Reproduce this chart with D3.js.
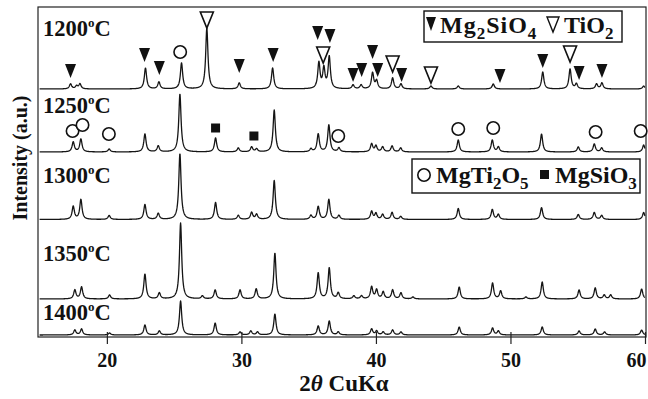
<!DOCTYPE html>
<html>
<head>
<meta charset="utf-8">
<script src="https://cdn.jsdelivr.net/npm/d3@7"></script>
<style>
  html, body { margin: 0; padding: 0; background: #fff; }
  svg { display: block; }
  text { font-family: "Liberation Serif", "Times New Roman", serif; font-weight: bold; fill: #111; }
</style>
</head>
<body>
<svg id="chart" width="648" height="399"></svg>
<script>
// Sintering temperatures, top to bottom
const samples = ["1200", "1250", "1300", "1350", "1400"];

// Baseline level of each pattern on the stacked intensity axis (a.u.)
const baselines = [248, 185, 117.5, 38, 2];

// Observed reflections: [2θ (deg), peak intensity above baseline (a.u.)]
const peaks1200 = [
  [17.3, 5], [17.75, 3], [18.0, 5], [22.87, 21], [23.87, 7], [25.55, 26], [27.43, 61],
  [29.84, 6], [32.32, 21], [35.76, 26], [36.13, 20], [36.53, 32], [38.3, 4], [38.9, 4],
  [39.75, 16], [40.05, 8], [41.24, 11], [41.86, 5], [44.09, 3], [46.12, 3], [48.72, 5],
  [52.4, 17], [54.43, 20], [54.9, 5], [56.4, 5], [56.8, 6], [59.9, 3]
];
const peaks1250 = [
  [17.5, 10], [18.07, 13], [20.17, 3], [22.83, 18], [23.82, 6], [25.43, 58], [28.08, 14],
  [29.77, 4], [30.76, 5], [31.13, 3], [32.44, 42], [35.17, 3], [35.71, 18], [36.5, 27],
  [37.25, 4], [39.68, 8], [40.0, 6], [40.5, 5], [41.2, 6], [41.84, 4], [46.12, 12],
  [48.65, 12], [49.1, 5], [52.31, 18], [55.04, 5], [56.23, 8], [56.78, 4], [59.9, 7]
];
const peaks1300 = [
  [17.5, 13], [18.07, 20], [20.17, 4], [22.83, 15], [23.82, 6], [25.43, 66], [28.08, 17],
  [29.77, 4], [30.76, 7], [31.13, 5], [32.44, 39], [35.17, 4], [35.71, 13], [36.5, 20],
  [37.25, 4], [39.68, 8], [40.0, 6], [40.5, 5], [41.2, 7], [41.84, 3], [46.12, 11],
  [48.65, 10], [49.1, 5], [52.31, 12], [55.04, 5], [56.23, 7], [56.78, 4], [59.9, 7]
];
const peaks1350 = [
  [17.62, 9], [18.12, 12], [20.2, 4], [22.83, 25], [23.9, 6], [25.48, 76], [27.1, 3],
  [28.05, 9], [29.9, 9], [31.1, 10], [32.49, 46], [35.71, 26], [36.53, 31], [37.2, 6],
  [38.36, 3], [38.93, 3], [39.68, 12], [40.05, 9], [40.54, 7], [41.24, 9], [41.86, 6],
  [42.75, 2], [46.19, 12], [48.67, 16], [49.27, 8], [51.15, 2], [52.36, 17], [55.1, 9],
  [56.3, 11], [56.97, 4], [57.45, 4], [59.75, 10]
];
const peaks1400 = [
  [17.62, 5], [18.12, 6], [20.2, 2], [22.83, 10], [23.9, 4], [25.48, 34], [28.05, 12],
  [29.9, 3], [30.7, 4], [31.2, 3], [32.49, 21], [35.71, 9], [36.53, 14], [37.2, 3],
  [39.68, 6], [40.05, 4], [40.54, 3], [41.24, 5], [41.86, 3], [46.19, 8], [48.67, 7],
  [49.1, 4], [52.36, 8], [55.1, 4], [56.3, 6], [57.0, 3], [59.75, 5]
];
const peakLists = [peaks1200, peaks1250, peaks1300, peaks1350, peaks1400];

// Phase identification marks: [2θ, lift above the pattern baseline (a.u.)]
const forsterite1200 = [
  [17.3, 11], [22.8, 27], [23.9, 14], [29.84, 16], [32.36, 27], [35.67, 49], [36.58, 46],
  [38.3, 7], [38.94, 12], [39.75, 30], [40.13, 12], [41.91, 7], [49.22, 6], [52.4, 21],
  [55.1, 9], [56.8, 11]
];
const rutile1200 = [[27.43, 61], [36.08, 26], [41.24, 17], [44.09, 6], [54.43, 27]];
const karrooite1200 = [[25.45, 37]];
const karrooite1250 = [
  [17.45, 21], [18.19, 27], [20.15, 18], [37.2, 16], [46.12, 23], [48.72, 24],
  [56.33, 20], [59.68, 21]
];
const enstatite1250 = [[28.08, 24], [30.93, 16]];

const xTicks = [20, 30, 40, 50, 60];

// ---------------------------------------------------------------------------
const frame = { left: 38, right: 646, top: 7, bottom: 337 };
const svg = d3.select("#chart");

const x = d3.scaleLinear().domain([15, 60]).range([39.6, 645]);
const y = d3.scaleLinear().domain([0, 330]).range([337, 7]);

// Diffraction profile: each reflection drawn as a narrow Lorentzian line
const hwhm = 0.1;
const grid = d3.range(15, 60.0001, 0.02);
function profile(peaks) {
  return grid.map(t => {
    let v = 0;
    for (const [p, h] of peaks) {
      const u = (t - p) / hwhm;
      v += h / (1 + u * u);
    }
    return [t, v];
  });
}

const plot = svg.append("g");
plot.append("defs").append("clipPath").attr("id", "clip")
  .append("rect").attr("x", frame.left).attr("y", frame.top)
  .attr("width", frame.right - frame.left).attr("height", frame.bottom - frame.top);

const traces = plot.append("g").attr("clip-path", "url(#clip)");
samples.forEach((s, i) => {
  const base = baselines[i];
  const line = d3.line().x(d => x(d[0])).y(d => y(base + d[1]));
  traces.append("path")
    .datum(profile(peakLists[i]))
    .attr("d", line)
    .attr("fill", "none")
    .attr("stroke", "#151515")
    .attr("stroke-width", 1.3)
    .attr("stroke-linejoin", "round");
});

// Frame
svg.append("rect")
  .attr("x", frame.left).attr("y", frame.top)
  .attr("width", frame.right - frame.left).attr("height", frame.bottom - frame.top)
  .attr("fill", "none").attr("stroke", "#222").attr("stroke-width", 1.2);

// Phase marks
const marks = svg.append("g");
function drawFilledTri(list, base) {
  marks.selectAll(null).data(list).enter().append("path")
    .attr("transform", d => `translate(${x(d[0])},${y(base + d[1])})`)
    .attr("d", "M-5.5,-14L5.5,-14L0,0Z")
    .attr("fill", "#111");
}
function drawOpenTri(list, base) {
  marks.selectAll(null).data(list).enter().append("path")
    .attr("transform", d => `translate(${x(d[0])},${y(base + d[1])})`)
    .attr("d", "M-6.5,-16L6.5,-16L0,0Z")
    .attr("fill", "#fff").attr("stroke", "#111").attr("stroke-width", 1.6)
    .attr("stroke-linejoin", "miter");
}
function drawCircle(list, base) {
  marks.selectAll(null).data(list).enter().append("circle")
    .attr("cx", d => x(d[0])).attr("cy", d => y(base + d[1]))
    .attr("r", 6.2)
    .attr("fill", "#fff").attr("stroke", "#111").attr("stroke-width", 1.6);
}
function drawSquare(list, base) {
  marks.selectAll(null).data(list).enter().append("rect")
    .attr("x", d => x(d[0]) - 4.5).attr("y", d => y(base + d[1]) - 4.5)
    .attr("width", 9).attr("height", 9)
    .attr("fill", "#111");
}
drawFilledTri(forsterite1200, baselines[0]);
drawOpenTri(rutile1200, baselines[0]);
drawCircle(karrooite1200, baselines[0]);
drawCircle(karrooite1250, baselines[1]);
drawSquare(enstatite1250, baselines[1]);

// Temperature labels
const labelY = [36, 113, 183, 261, 320];
samples.forEach((s, i) => {
  const t = svg.append("text").attr("x", 43).attr("y", labelY[i]).style("font-size", "22.5px");
  t.append("tspan").text(s);
  t.append("tspan").text("o").style("font-size", "13px").attr("dy", -9);
  t.append("tspan").text("C").attr("dy", 9);
});

// Legends
function formula(g, xpos, ypos, parts, size, subSize) {
  const t = g.append("text").attr("x", xpos).attr("y", ypos).style("font-size", size + "px");
  let shifted = false;
  parts.forEach(p => {
    const sub = /^\d$/.test(p);
    const ts = t.append("tspan").text(p);
    if (sub && !shifted) { ts.attr("dy", 6).style("font-size", subSize + "px"); shifted = true; }
    else if (!sub && shifted) { ts.attr("dy", -6); shifted = false; }
    else if (sub) { ts.style("font-size", subSize + "px"); }
  });
  return t;
}

const leg1 = svg.append("g");
leg1.append("rect").attr("x", 424).attr("y", 11).attr("width", 198).attr("height", 31)
  .attr("fill", "#fff").attr("stroke", "#111").attr("stroke-width", 1.4);
leg1.append("path").attr("transform", "translate(431,31)").attr("d", "M-5,-14L5,-14L0,0Z").attr("fill", "#111");
formula(leg1, 440, 33, ["Mg", "2", "SiO", "4"], 24, 17).style("letter-spacing", "1px");
leg1.append("path").attr("transform", "translate(553,32)").attr("d", "M-6,-15L6,-15L0,0Z")
  .attr("fill", "#fff").attr("stroke", "#111").attr("stroke-width", 1.4);
formula(leg1, 564, 33, ["TiO", "2"], 24, 17);

const leg2 = svg.append("g");
leg2.append("rect").attr("x", 412).attr("y", 159).attr("width", 228).attr("height", 34)
  .attr("fill", "#fff").attr("stroke", "#111").attr("stroke-width", 1.4);
leg2.append("circle").attr("cx", 424).attr("cy", 175).attr("r", 6.2)
  .attr("fill", "#fff").attr("stroke", "#111").attr("stroke-width", 1.6);
formula(leg2, 436, 183, ["MgTi", "2", "O", "5"], 24, 17);
leg2.append("rect").attr("x", 540).attr("y", 170).attr("width", 9).attr("height", 9).attr("fill", "#111");
formula(leg2, 555, 183, ["MgSiO", "3"], 24, 17);

// X axis
const axisG = svg.append("g").attr("transform", `translate(0,${frame.bottom})`);
axisG.call(d3.axisBottom(x).tickValues(xTicks).tickSize(7).tickPadding(9).tickFormat(d3.format("d")));
axisG.select(".domain").remove();
axisG.selectAll(".tick line").attr("stroke", "#222").attr("stroke-width", 1.2);
axisG.selectAll(".tick text").style("font-size", "20px")
  .style("font-family", "'Liberation Serif', 'Times New Roman', serif").style("font-weight", "bold").attr("fill", "#111")
  .attr("dx", d => d === 60 ? -9 : 0);
const innerTicks = svg.append("g").attr("transform", `translate(0,${frame.bottom})`);
innerTicks.call(d3.axisTop(x).tickValues(xTicks).tickSize(5).tickFormat(""));
innerTicks.select(".domain").remove();
innerTicks.selectAll(".tick line").attr("stroke", "#222").attr("stroke-width", 1.2);

// Axis titles
const xt = svg.append("text").attr("x", 344).attr("y", 391).attr("text-anchor", "middle").style("font-size", "23px");
xt.append("tspan").text("2");
xt.append("tspan").text("θ").style("font-style", "italic");
xt.append("tspan").text(" CuKα");

svg.append("text")
  .attr("transform", "translate(27,158) rotate(-90)")
  .attr("text-anchor", "middle")
  .style("font-size", "20px")
  .text("Intensity (a.u.)");
</script>
</body>
</html>
